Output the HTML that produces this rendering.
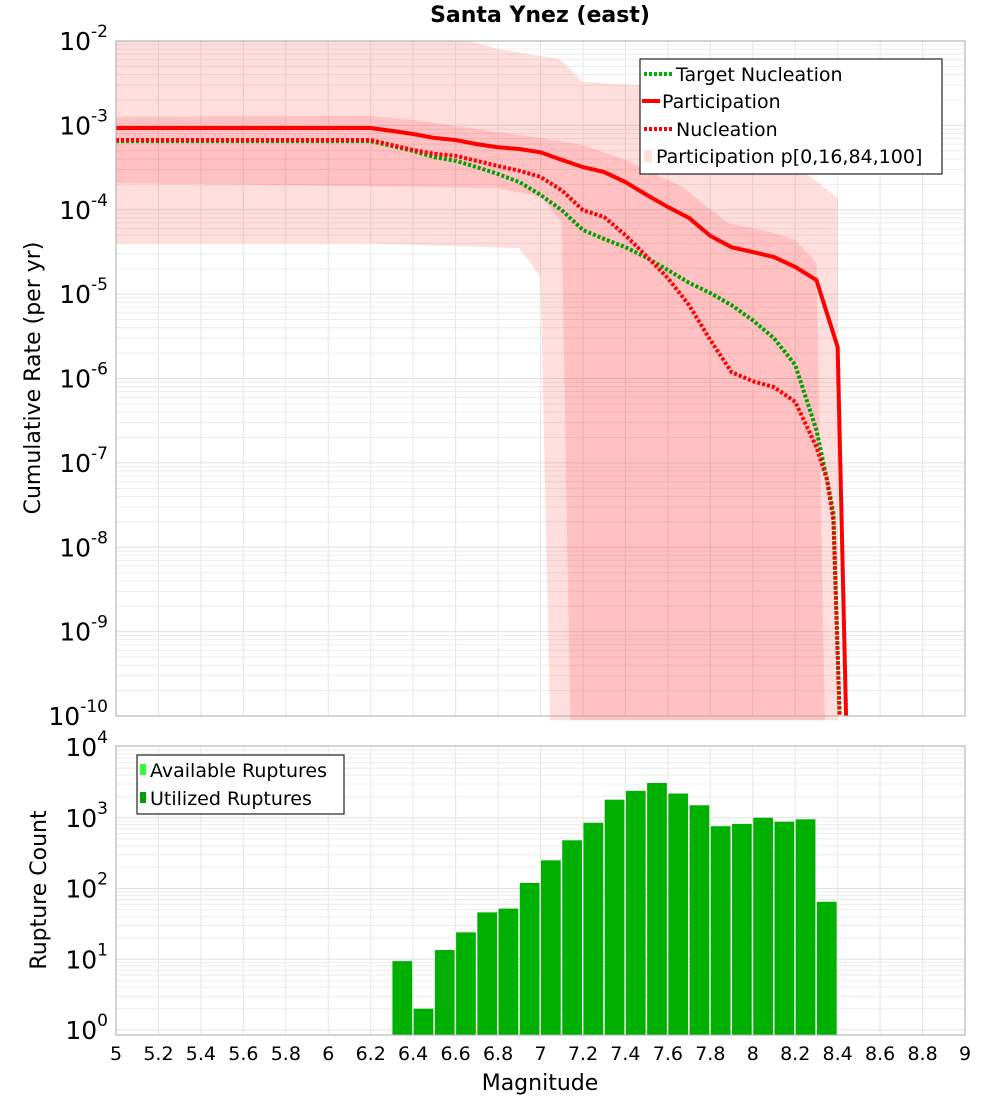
<!DOCTYPE html>
<html><head><meta charset="utf-8"><style>
html,body{margin:0;padding:0;background:#fff;}
svg{display:block;font-family:"DejaVu Sans","Liberation Sans",sans-serif;}
</style></head><body>
<svg id="chart" width="1000" height="1100" xmlns="http://www.w3.org/2000/svg">
<text x="540" y="22" text-anchor="middle" font-size="22" font-weight="bold">Santa Ynez (east)</text>
<g id="top-grid"></g>
<g id="top-bands"></g>
<g id="top-lines"></g>
<rect x="116" y="41" width="849" height="675" fill="none" stroke="#aaa" stroke-width="1"/>
<g id="top-yticks"></g>
<text transform="translate(40,378) rotate(-90)" text-anchor="middle" font-size="22">Cumulative Rate (per yr)</text>
<g>
<rect x="640" y="59" width="302" height="115" fill="#fff" stroke="#222" stroke-width="1.2"/>
<line x1="644" y1="74" x2="672" y2="74" stroke="#00b000" stroke-width="4" stroke-dasharray="3,2"/>
<text x="676" y="81" font-size="19">Target Nucleation</text>
<line x1="642" y1="101" x2="660" y2="101" stroke="#f00" stroke-width="4"/>
<text x="662" y="108" font-size="19">Participation</text>
<line x1="644" y1="129" x2="672" y2="129" stroke="#f00" stroke-width="4" stroke-dasharray="3,2"/>
<text x="676" y="136" font-size="19">Nucleation</text>
<rect x="644" y="150" width="8" height="12" fill="#ffdede"/>
<text x="656" y="163" font-size="19">Participation p[0,16,84,100]</text>
</g>
<g id="bot-grid"></g>
<g id="bot-bars"></g>
<rect x="116" y="746" width="849" height="289" fill="none" stroke="#aaa" stroke-width="1"/>
<g id="bot-yticks"></g>
<g id="xticks"></g>
<text transform="translate(46,890) rotate(-90)" text-anchor="middle" font-size="22">Rupture Count</text>
<text x="540" y="1090" text-anchor="middle" font-size="22">Magnitude</text>
<g>
<rect x="137" y="755" width="207" height="59" fill="#fff" stroke="#222" stroke-width="1.2"/>
<rect x="140" y="764" width="6" height="11" fill="#33ff33"/>
<text x="150" y="777" font-size="19">Available Ruptures</text>
<rect x="140" y="792" width="6" height="11" fill="#00a000"/>
<text x="150" y="805" font-size="19">Utilized Ruptures</text>
</g>
</svg>
<script>
const xTicks=[5,5.2,5.4,5.6,5.8,6,6.2,6.4,6.6,6.8,7,7.2,7.4,7.6,7.8,8,8.2,8.4,8.6,8.8,9];
const xTickLabels=["5","5.2","5.4","5.6","5.8","6","6.2","6.4","6.6","6.8","7","7.2","7.4","7.6","7.8","8","8.2","8.4","8.6","8.8","9"];
const topDecades=[-2,-3,-4,-5,-6,-7,-8,-9,-10];
const botDecades=[4,3,2,1,0];
const partM=[5,6.2,6.3,6.4,6.5,6.6,6.7,6.8,6.9,7.0,7.1,7.2,7.3,7.4,7.5,7.6,7.7,7.8,7.9,8.0,8.1,8.2,8.3,8.4,8.44];
const partV=[9.3e-4,9.3e-4,8.6e-4,7.9e-4,7.1e-4,6.7e-4,6.0e-4,5.5e-4,5.25e-4,4.8e-4,3.9e-4,3.2e-4,2.8e-4,2.13e-4,1.5e-4,1.08e-4,8.0e-5,4.9e-5,3.6e-5,3.15e-5,2.75e-5,2.1e-5,1.47e-5,2.36e-6,3e-11];
const nuclM=[5,6.2,6.3,6.4,6.5,6.6,6.7,6.8,6.9,7.0,7.1,7.2,7.3,7.4,7.5,7.6,7.7,7.8,7.9,8.0,8.1,8.2,8.3,8.35,8.38,8.41];
const nuclV=[6.7e-4,6.7e-4,5.85e-4,5.1e-4,4.6e-4,4.35e-4,3.8e-4,3.3e-4,2.9e-4,2.45e-4,1.7e-4,9.9e-5,8.2e-5,5.0e-5,2.8e-5,1.55e-5,7.4e-6,2.86e-6,1.19e-6,9.3e-7,7.9e-7,5.3e-7,1.54e-7,6.3e-8,2.1e-8,3e-11];
const targM=[5,6.2,6.3,6.4,6.5,6.6,6.7,6.8,6.9,7.0,7.1,7.2,7.3,7.4,7.5,7.6,7.7,7.8,7.9,8.0,8.1,8.2,8.3,8.35,8.38,8.41];
const targV=[6.5e-4,6.5e-4,5.7e-4,4.97e-4,4.2e-4,3.8e-4,3.2e-4,2.65e-4,2.13e-4,1.5e-4,9.9e-5,5.75e-5,4.5e-5,3.6e-5,2.7e-5,1.93e-5,1.36e-5,1.03e-5,7.4e-6,4.9e-6,3.0e-6,1.45e-6,2.45e-7,6.3e-8,2.55e-8,3e-11];
const outerUpM=[5,6.67,6.8,7.09,7.2,7.6,7.8,8.0,8.2,8.4,8.4];
const outerUpV=[1e-2,1e-2,8.0e-3,6.1e-3,3.27e-3,2.85e-3,2.49e-3,1.33e-3,3.4e-4,1.38e-4,1e-11];
const outerLoM=[7.045,7.0,6.9,6.2,5];
const outerLoV=[1e-11,1.6e-5,3.5e-5,4.0e-5,4.0e-5];
const innerUpM=[5,6.2,6.4,6.8,7.0,7.2,7.4,7.67,7.88,8.08,8.2,8.3,8.34];
const innerUpV=[1.26e-3,1.29e-3,1.16e-3,8.3e-4,7.1e-4,5.85e-4,3.9e-4,1.86e-4,7.0e-5,5.45e-5,4.4e-5,2.34e-5,1e-11];
const innerLoM=[7.14,7.1,7.0,6.8,5];
const innerLoV=[1e-11,7.2e-5,1.42e-4,1.81e-4,2.07e-4];
const binStarts=[6.3,6.4,6.5,6.6,6.7,6.8,6.9,7.0,7.1,7.2,7.3,7.4,7.5,7.6,7.7,7.8,7.9,8.0,8.1,8.2,8.3];
const binCounts=[9.4,2,13.5,24,46,52,120,250,480,850,1800,2400,3100,2200,1500,760,820,1000,880,950,65];

const NS="http://www.w3.org/2000/svg";
const X0=116,X1=965,TY0=41,TY1=716,BY0=746,BY1=1035;
function xs(m){return X0+(m-5)/4*(X1-X0);}
function ysTop(v){let l=Math.log10(v);if(l<-10.05)l=-10.05;return TY0+(-2-l)*(TY1-TY0)/8;}
const BDEC=70.75;
function ysBot(v){return 1030-Math.log10(v)*BDEC;}
function mk(tag,attrs,parent){const e=document.createElementNS(NS,tag);for(const k in attrs)e.setAttribute(k,attrs[k]);parent.appendChild(e);return e;}

const tg=document.getElementById('top-grid');
const bg=document.getElementById('bot-grid');
// vertical grid
xTicks.forEach(t=>{
  const x=xs(t);
  const l1=mk('line',{x1:x,x2:x,y1:TY0,y2:TY1,stroke:'#e6e6e6','stroke-width':1},tg);
  
  const l2=mk('line',{x1:x,x2:x,y1:BY0,y2:BY1,stroke:'#e6e6e6','stroke-width':1},bg);
  
});
// horizontal grid top
for(let d=-10;d<-2;d++){for(let k=1;k<10;k++){const y=ysTop(k*Math.pow(10,d));
  const l=mk('line',{x1:X0,x2:X1,y1:y,y2:y,stroke:k==1?'#e0e0e0':'#ececec','stroke-width':1},tg);
  }}
for(let d=0;d<4;d++){for(let k=1;k<10;k++){const y=ysBot(k*Math.pow(10,d));
  const l=mk('line',{x1:X0,x2:X1,y1:y,y2:y,stroke:k==1?'#e0e0e0':'#ececec','stroke-width':1},bg);
  }}

// bands
function poly(ma,va,mb,vb){let p=[];for(let i=0;i<ma.length;i++)p.push(xs(ma[i])+','+ysTop(va[i]));for(let i=0;i<mb.length;i++)p.push(xs(mb[i])+','+ysTop(vb[i]));return p.join(' ');}
const bands=document.getElementById('top-bands');
const ob=mk('polygon',{points:poly(outerUpM,outerUpV,outerLoM,outerLoV),fill:'rgba(255,0,0,0.13)'},bands);

const ib=mk('polygon',{points:poly(innerUpM,innerUpV,innerLoM,innerLoV),fill:'rgba(255,0,0,0.13)'},bands);


// lines
const lg=document.getElementById('top-lines');
const clip=mk('clipPath',{id:'tclip'},lg);mk('rect',{x:X0,y:TY0,width:X1-X0,height:TY1-TY0},clip);
function pl(ms,vs){return ms.map((m,i)=>xs(m)+','+ysTop(vs[i])).join(' ');}
const t1=mk('polyline',{points:pl(targM,targV),fill:'none',stroke:'#00a000','stroke-width':4,'stroke-dasharray':'3,2','clip-path':'url(#tclip)'},lg);

const n1=mk('polyline',{points:pl(nuclM,nuclV),fill:'none',stroke:'#f00','stroke-width':4,'stroke-dasharray':'3,2','clip-path':'url(#tclip)'},lg);

const p1=mk('polyline',{points:pl(partM,partV),fill:'none',stroke:'#f00','stroke-width':4,'clip-path':'url(#tclip)'},lg);


// y ticks
function expLabel(parent,y,e){const t=mk('text',{x:108,y:y+9,'text-anchor':'end','font-size':25},parent);
  
  const a=mk('tspan',{},t);a.textContent='10';const b=mk('tspan',{dy:-13,'font-size':17},t);b.textContent=String(e);}
const ty=document.getElementById('top-yticks');
topDecades.forEach(d=>expLabel(ty,ysTop(Math.pow(10,d)),d));
const by=document.getElementById('bot-yticks');
botDecades.forEach(d=>expLabel(by,ysBot(Math.pow(10,d)),d));
// x ticks
const xt=document.getElementById('xticks');
xTicks.forEach((t,i)=>{const e=mk('text',{x:xs(t),y:1060,'text-anchor':'middle','font-size':19},xt);e.textContent=xTickLabels[i];
  });

// bars
const bb=document.getElementById('bot-bars');
binStarts.forEach((m,i)=>{const x0=xs(m),x1=xs(m+0.1);const y=ysBot(binCounts[i]);
  const r=mk('rect',{x:x0+0.5,y:y,width:x1-x0-1.5,height:BY1-y,fill:'#00b000'},bb);
  });
</script>
</body></html>
